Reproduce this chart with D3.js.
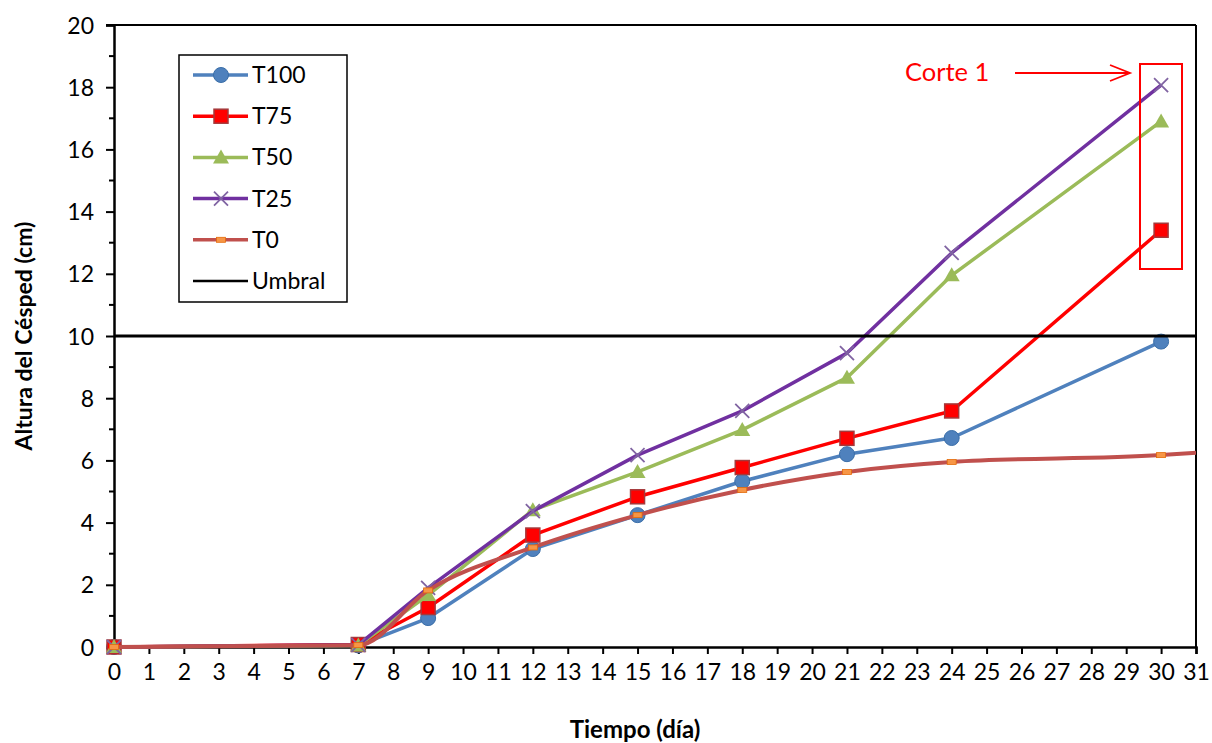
<!DOCTYPE html>
<html><head><meta charset="utf-8">
<script src="https://cdn.jsdelivr.net/npm/d3@7"></script>
<style>body{margin:0;background:#fff}svg{display:block}text{font-family:Lato,"Open Sans",sans-serif}</style>
</head><body>
<svg id="c" width="1212" height="743"></svg>
<script>
const days = [0, 7, 9, 12, 15, 18, 21, 24, 30];
const T100 = [0, 0.05, 0.93, 3.15, 4.24, 5.33, 6.2, 6.72, 9.82];
const T75  = [0, 0.08, 1.27, 3.6, 4.83, 5.77, 6.71, 7.59, 13.4];
const T50  = [0, 0.05, 1.67, 4.4, 5.63, 6.98, 8.66, 11.95, 16.9];
const T25  = [0, 0.07, 1.9, 4.37, 6.17, 7.59, 9.45, 12.67, 18.07];
const T0days = [0, 7, 9, 12, 15, 18, 21, 24, 30, 31];
const T0   = [0, 0.06, 1.82, 3.2, 4.24, 5.05, 5.63, 5.95, 6.17, 6.25];
const umbralDays = [0, 31];
const umbral = [10, 10];
const xTicks = d3.range(0, 32);
const yTicks = [0, 2, 4, 6, 8, 10, 12, 14, 16, 18, 20];
const yMinor = d3.range(1, 20, 2);
const seriesNames = ["T100", "T75", "T50", "T25", "T0", "Umbral"];

const svg = d3.select("#c");
const L = 114, R = 1196, T = 25, B = 647;
const x = d3.scaleLinear().domain([0, 31]).range([L, R]);
const y = d3.scaleLinear().domain([0, 20]).range([B, T]);

// frame top & right
svg.append("line").attr("x1", L - 8).attr("x2", R).attr("y1", T).attr("y2", T).attr("stroke", "#000").attr("stroke-width", 2);
svg.append("line").attr("x1", R).attr("x2", R).attr("y1", T).attr("y2", B).attr("stroke", "#000").attr("stroke-width", 2);

// y axis
const yAx = svg.append("g").attr("transform", `translate(${L},0)`)
  .call(d3.axisLeft(y).tickValues(yTicks).tickSize(8).tickPadding(12).tickFormat(d3.format("d")));
yAx.select(".domain").attr("stroke-width", 2.5);
yAx.selectAll(".tick line").attr("stroke-width", 2);
yAx.selectAll("text").attr("font-size", 23).attr("fill", "#000").attr("dy", "0.35em");
svg.append("g").selectAll("line").data(yMinor).join("line")
  .attr("x1", L - 5).attr("x2", L).attr("y1", d => y(d)).attr("y2", d => y(d))
  .attr("stroke", "#000").attr("stroke-width", 2);

// x axis
const xAx = svg.append("g").attr("transform", `translate(0,${B})`)
  .call(d3.axisBottom(x).tickValues(xTicks).tickSize(7).tickPadding(10).tickFormat(d3.format("d")));
xAx.select(".domain").attr("stroke-width", 2.5);
xAx.selectAll(".tick line").attr("stroke-width", 2);
xAx.selectAll("text").attr("font-size", 23).attr("fill", "#000");

// titles
svg.append("text").attr("transform", `translate(32,${(T + B) / 2}) rotate(-90)`)
  .attr("text-anchor", "middle").attr("font-size", 23).attr("font-weight", "bold").text("Altura del Césped (cm)");
svg.append("text").attr("x", 635).attr("y", 738)
  .attr("text-anchor", "middle").attr("font-size", 24).attr("font-weight", "bold").text("Tiempo (día)");

const line = d3.line().x(d => x(d[0])).y(d => y(d[1]));
const smooth = d3.line().x(d => x(d[0])).y(d => y(d[1])).curve(d3.curveMonotoneX);
const zip = (a, b) => a.map((v, i) => [v, b[i]]);

const styles = {
  T100: {stroke: "#4F81BD", w: 3.5},
  T75: {stroke: "#FF0000", w: 3.5},
  T50: {stroke: "#9BBB59", w: 3.5},
  T25: {stroke: "#7030A0", w: 3.5},
  T0: {stroke: "#C0504D", w: 4},
  Umbral: {stroke: "#000", w: 3}
};

function marker(g, name, cx, cy) {
  if (name === "T100") g.append("circle").attr("cx", cx).attr("cy", cy).attr("r", 7.5).attr("fill", "#4F81BD").attr("stroke", "#3A6EA8").attr("stroke-width", 1);
  else if (name === "T75") g.append("rect").attr("x", cx - 7).attr("y", cy - 7).attr("width", 14).attr("height", 14).attr("fill", "#FF0000").attr("stroke", "#A5383A").attr("stroke-width", 1.5);
  else if (name === "T50") g.append("path").attr("d", `M${cx},${cy - 8}L${cx + 8},${cy + 6}L${cx - 8},${cy + 6}Z`).attr("fill", "#9BBB59");
  else if (name === "T25") g.append("path").attr("d", `M${cx - 7},${cy - 7}L${cx + 7},${cy + 7}M${cx + 7},${cy - 7}L${cx - 7},${cy + 7}`).attr("stroke", "#8064A2").attr("stroke-width", 1.8);
  else if (name === "T0") g.append("rect").attr("x", cx - 4.5).attr("y", cy - 2.5).attr("width", 9).attr("height", 5).attr("fill", "#F79646").attr("stroke", "#E46C0A").attr("stroke-width", 0.8);
}

const dataMap = {
  T100: zip(days, T100), T75: zip(days, T75), T50: zip(days, T50), T25: zip(days, T25),
  T0: zip(T0days, T0), Umbral: zip(umbralDays, umbral)
};

svg.append("clipPath").attr("id", "clip").append("rect").attr("x", L - 10).attr("y", T - 10).attr("width", R - L + 10).attr("height", B - T + 20);
const plot = svg.append("g").attr("clip-path", "url(#clip)");
["T100", "T75", "T50", "T25", "T0"].forEach(name => {
  const g = plot.append("g");
  g.append("path").attr("d", (name === "T0" ? smooth : line)(dataMap[name])).attr("fill", "none")
    .attr("stroke", styles[name].stroke).attr("stroke-width", styles[name].w).attr("stroke-linejoin", "round");
  dataMap[name].filter(d => d[0] <= 30).forEach(d => marker(g, name, x(d[0]), y(d[1])));
});
svg.append("path").attr("d", line(dataMap.Umbral))
  .attr("stroke", "#000").attr("stroke-width", 3).attr("fill", "none");

// legend
const lg = svg.append("g");
lg.append("rect").attr("x", 179).attr("y", 55).attr("width", 168).attr("height", 247).attr("fill", "#fff").attr("stroke", "#000").attr("stroke-width", 1.5);
seriesNames.forEach((name, i) => {
  const cy = 75 + i * 41.2;
  lg.append("line").attr("x1", 193).attr("x2", 248).attr("y1", cy).attr("y2", cy)
    .attr("stroke", styles[name].stroke).attr("stroke-width", name === "Umbral" ? 2.5 : 3.5);
  marker(lg, name, 221, cy);
  lg.append("text").attr("x", 252).attr("y", cy).attr("dy", "0.35em").attr("font-size", 23).attr("fill", "#000").text(name);
});

// annotation
svg.append("text").attr("x", 905).attr("y", 81).attr("font-size", 25.5).attr("fill", "#FF0000").text("Corte 1");
svg.append("line").attr("x1", 1015).attr("x2", 1128).attr("y1", 73).attr("y2", 73).attr("stroke", "#FF0000").attr("stroke-width", 1.8);
svg.append("path").attr("d", "M1110,65L1130,73L1110,81").attr("fill", "none").attr("stroke", "#FF0000").attr("stroke-width", 1.8);
svg.append("rect").attr("x", 1140).attr("y", 64).attr("width", 42).attr("height", 205).attr("fill", "none").attr("stroke", "#FF0000").attr("stroke-width", 2);
</script>
</body></html>
